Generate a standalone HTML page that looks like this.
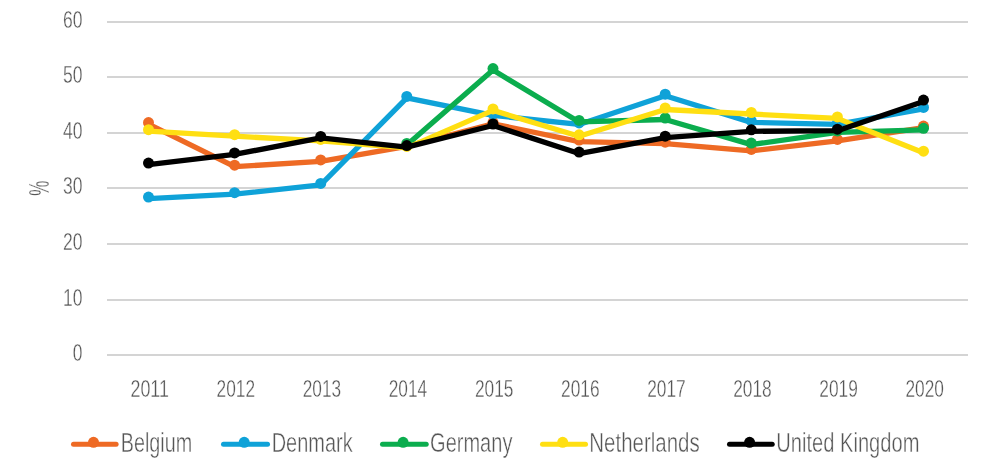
<!DOCTYPE html>
<html><head><meta charset="utf-8"><style>
html,body{margin:0;padding:0;background:#fff;}
svg{display:block;will-change:transform;}
.t{font-family:"Liberation Sans",sans-serif;font-size:23.5px;fill:#555555;stroke:#fff;stroke-width:0.35px;}
.tl{font-family:"Liberation Sans",sans-serif;font-size:27px;fill:#555555;stroke:#fff;stroke-width:0.45px;}
</style></head><body>
<svg width="985" height="471" viewBox="0 0 985 471">
<rect width="985" height="471" fill="#fff"/>
<rect x="107" y="21" width="861" height="2" fill="#D4D4D4"/><rect x="107" y="76" width="861" height="2" fill="#D4D4D4"/><rect x="107" y="132" width="861" height="2" fill="#D4D4D4"/><rect x="107" y="187" width="861" height="2" fill="#D4D4D4"/><rect x="107" y="243" width="861" height="2" fill="#D4D4D4"/><rect x="107" y="299" width="861" height="2" fill="#D4D4D4"/><rect x="107" y="354" width="861" height="2" fill="#D4D4D4"/>
<text x="82.5" y="27.8" text-anchor="end" class="t" textLength="19.5" lengthAdjust="spacingAndGlyphs">60</text><text x="82.5" y="83.3" text-anchor="end" class="t" textLength="19.5" lengthAdjust="spacingAndGlyphs">50</text><text x="82.5" y="138.8" text-anchor="end" class="t" textLength="19.5" lengthAdjust="spacingAndGlyphs">40</text><text x="82.5" y="194.3" text-anchor="end" class="t" textLength="19.5" lengthAdjust="spacingAndGlyphs">30</text><text x="82.5" y="249.8" text-anchor="end" class="t" textLength="19.5" lengthAdjust="spacingAndGlyphs">20</text><text x="82.5" y="305.8" text-anchor="end" class="t" textLength="19.5" lengthAdjust="spacingAndGlyphs">10</text><text x="82.5" y="360.8" text-anchor="end" class="t" textLength="9.7" lengthAdjust="spacingAndGlyphs">0</text>
<text x="0" y="0" class="t" style="font-size:29.5px" transform="translate(49.2,188.2) rotate(-90)" text-anchor="middle" textLength="15" lengthAdjust="spacingAndGlyphs">%</text>
<text x="149.7" y="397" text-anchor="middle" class="t" textLength="38.5" lengthAdjust="spacingAndGlyphs">2011</text><text x="235.8" y="397" text-anchor="middle" class="t" textLength="38.5" lengthAdjust="spacingAndGlyphs">2012</text><text x="321.9" y="397" text-anchor="middle" class="t" textLength="38.5" lengthAdjust="spacingAndGlyphs">2013</text><text x="408.0" y="397" text-anchor="middle" class="t" textLength="38.5" lengthAdjust="spacingAndGlyphs">2014</text><text x="494.2" y="397" text-anchor="middle" class="t" textLength="38.5" lengthAdjust="spacingAndGlyphs">2015</text><text x="580.3" y="397" text-anchor="middle" class="t" textLength="38.5" lengthAdjust="spacingAndGlyphs">2016</text><text x="666.4" y="397" text-anchor="middle" class="t" textLength="38.5" lengthAdjust="spacingAndGlyphs">2017</text><text x="752.5" y="397" text-anchor="middle" class="t" textLength="38.5" lengthAdjust="spacingAndGlyphs">2018</text><text x="838.6" y="397" text-anchor="middle" class="t" textLength="38.5" lengthAdjust="spacingAndGlyphs">2019</text><text x="924.7" y="397" text-anchor="middle" class="t" textLength="38.5" lengthAdjust="spacingAndGlyphs">2020</text>
<polyline points="148.5,124.1 234.6,166.7 320.7,161.4 406.8,146.4 493.0,123.8 579.1,141.6 665.2,143.7 751.3,150.9 837.4,140.9 923.5,127.6" fill="none" stroke="#EE6A24" stroke-width="5.3" stroke-linejoin="round"/><circle cx="148.5" cy="122.6" r="5.5" fill="#EE6A24"/><circle cx="234.6" cy="165.2" r="5.5" fill="#EE6A24"/><circle cx="320.7" cy="159.9" r="5.5" fill="#EE6A24"/><circle cx="406.8" cy="144.9" r="5.5" fill="#EE6A24"/><circle cx="493.0" cy="122.3" r="5.5" fill="#EE6A24"/><circle cx="579.1" cy="140.1" r="5.5" fill="#EE6A24"/><circle cx="665.2" cy="142.2" r="5.5" fill="#EE6A24"/><circle cx="751.3" cy="149.4" r="5.5" fill="#EE6A24"/><circle cx="837.4" cy="139.4" r="5.5" fill="#EE6A24"/><circle cx="923.5" cy="126.1" r="5.5" fill="#EE6A24"/><polyline points="148.5,198.6 234.6,194.2 320.7,184.9 406.8,97.9 493.0,115.4 579.1,124.4 665.2,95.7 751.3,122.4 837.4,124.4 923.5,108.9" fill="none" stroke="#0FA2D8" stroke-width="5.3" stroke-linejoin="round"/><circle cx="148.5" cy="197.1" r="5.5" fill="#0FA2D8"/><circle cx="234.6" cy="192.7" r="5.5" fill="#0FA2D8"/><circle cx="320.7" cy="183.4" r="5.5" fill="#0FA2D8"/><circle cx="406.8" cy="96.4" r="5.5" fill="#0FA2D8"/><circle cx="493.0" cy="113.9" r="5.5" fill="#0FA2D8"/><circle cx="579.1" cy="122.9" r="5.5" fill="#0FA2D8"/><circle cx="665.2" cy="94.2" r="5.5" fill="#0FA2D8"/><circle cx="751.3" cy="120.9" r="5.5" fill="#0FA2D8"/><circle cx="837.4" cy="122.9" r="5.5" fill="#0FA2D8"/><circle cx="923.5" cy="107.4" r="5.5" fill="#0FA2D8"/><polyline points="406.8,144.9 493.0,70.1 579.1,121.9 665.2,119.5 751.3,144.6 837.4,132.4 923.5,129.8" fill="none" stroke="#0BAD4E" stroke-width="5.3" stroke-linejoin="round"/><circle cx="406.8" cy="143.4" r="5.5" fill="#0BAD4E"/><circle cx="493.0" cy="68.6" r="5.5" fill="#0BAD4E"/><circle cx="579.1" cy="120.4" r="5.5" fill="#0BAD4E"/><circle cx="665.2" cy="118.0" r="5.5" fill="#0BAD4E"/><circle cx="751.3" cy="143.1" r="5.5" fill="#0BAD4E"/><circle cx="837.4" cy="130.9" r="5.5" fill="#0BAD4E"/><circle cx="923.5" cy="128.3" r="5.5" fill="#0BAD4E"/><polyline points="148.5,131.2 234.6,136.2 320.7,140.9 406.8,147.9 493.0,110.4 579.1,136.3 665.2,109.5 751.3,114.0 837.4,118.4 923.5,152.7" fill="none" stroke="#FFDF12" stroke-width="5.3" stroke-linejoin="round"/><circle cx="148.5" cy="129.7" r="5.5" fill="#FFDF12"/><circle cx="234.6" cy="134.7" r="5.5" fill="#FFDF12"/><circle cx="320.7" cy="139.4" r="5.5" fill="#FFDF12"/><circle cx="406.8" cy="146.4" r="5.5" fill="#FFDF12"/><circle cx="493.0" cy="108.9" r="5.5" fill="#FFDF12"/><circle cx="579.1" cy="134.8" r="5.5" fill="#FFDF12"/><circle cx="665.2" cy="108.0" r="5.5" fill="#FFDF12"/><circle cx="751.3" cy="112.5" r="5.5" fill="#FFDF12"/><circle cx="837.4" cy="116.9" r="5.5" fill="#FFDF12"/><circle cx="923.5" cy="151.2" r="5.5" fill="#FFDF12"/><polyline points="148.5,164.6 234.6,154.4 320.7,137.9 406.8,147.1 493.0,125.5 579.1,153.6 665.2,137.7 751.3,131.3 837.4,130.7 923.5,101.6" fill="none" stroke="#000000" stroke-width="5.3" stroke-linejoin="round"/><circle cx="148.5" cy="163.1" r="5.5" fill="#000000"/><circle cx="234.6" cy="152.9" r="5.5" fill="#000000"/><circle cx="320.7" cy="136.4" r="5.5" fill="#000000"/><circle cx="406.8" cy="145.6" r="5.5" fill="#000000"/><circle cx="493.0" cy="124.0" r="5.5" fill="#000000"/><circle cx="579.1" cy="152.1" r="5.5" fill="#000000"/><circle cx="665.2" cy="136.2" r="5.5" fill="#000000"/><circle cx="751.3" cy="129.8" r="5.5" fill="#000000"/><circle cx="837.4" cy="129.2" r="5.5" fill="#000000"/><circle cx="923.5" cy="100.1" r="5.5" fill="#000000"/>
<line x1="73.5" y1="444.2" x2="116.1" y2="444.2" stroke="#EE6A24" stroke-width="5" stroke-linecap="round"/><circle cx="93.5" cy="442.3" r="5.5" fill="#EE6A24"/><text x="120.8" y="452" class="tl" textLength="71.4" lengthAdjust="spacingAndGlyphs">Belgium</text><line x1="223.5" y1="444.2" x2="267.5" y2="444.2" stroke="#0FA2D8" stroke-width="5" stroke-linecap="round"/><circle cx="244.2" cy="442.3" r="5.5" fill="#0FA2D8"/><text x="271.7" y="452" class="tl" textLength="81.0" lengthAdjust="spacingAndGlyphs">Denmark</text><line x1="382.5" y1="444.2" x2="426.2" y2="444.2" stroke="#0BAD4E" stroke-width="5" stroke-linecap="round"/><circle cx="403.1" cy="442.3" r="5.5" fill="#0BAD4E"/><text x="430.1" y="452" class="tl" textLength="82.3" lengthAdjust="spacingAndGlyphs">Germany</text><line x1="542.5" y1="444.2" x2="585.5" y2="444.2" stroke="#FFDF12" stroke-width="5" stroke-linecap="round"/><circle cx="562.7" cy="442.3" r="5.5" fill="#FFDF12"/><text x="589.3" y="452" class="tl" textLength="110.4" lengthAdjust="spacingAndGlyphs">Netherlands</text><line x1="729.5" y1="444.2" x2="772.2" y2="444.2" stroke="#000000" stroke-width="5" stroke-linecap="round"/><circle cx="749.6" cy="442.3" r="5.5" fill="#000000"/><text x="776.3" y="452" class="tl" textLength="143.1" lengthAdjust="spacingAndGlyphs">United Kingdom</text>
</svg></body></html>
